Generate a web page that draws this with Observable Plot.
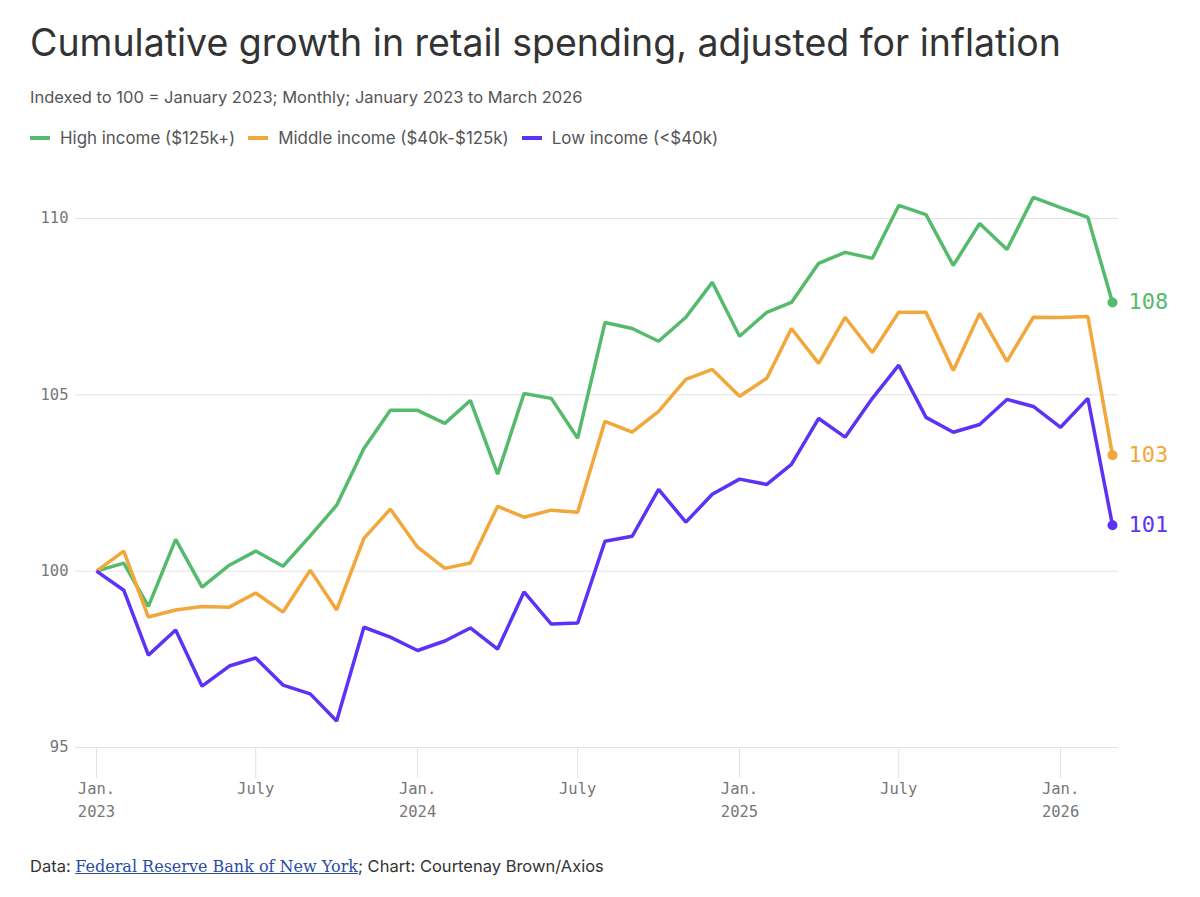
<!DOCTYPE html>
<html>
<head>
<meta charset="utf-8">
<script src="https://cdn.jsdelivr.net/npm/d3@7"></script>
<script src="https://cdn.jsdelivr.net/npm/@observablehq/plot@0.6"></script>
<style>
  html, body { margin: 0; padding: 0; background: #fff; }
  body { width: 1200px; height: 897px; position: relative; font-family: Inter, "Noto Sans", sans-serif; overflow: hidden; }
  #title { position: absolute; left: 30px; top: 20px; font-size: 37.5px; color: #333; font-weight: 400; white-space: nowrap; }
  #subtitle { position: absolute; left: 30px; top: 87px; font-size: 16.5px; color: #555; white-space: nowrap; }
  #legend { position: absolute; left: 30px; top: 128px; font-size: 16.9px; color: #555; white-space: nowrap; display: flex; align-items: center; }
  #legend .item { display: flex; align-items: center; margin-right: 13px; }
  #legend .sw { width: 20px; height: 4px; margin-right: 10px; display: inline-block; }
  #chart { position: absolute; left: 0; top: 160px; }
  #footer { position: absolute; left: 30px; top: 856px; font-size: 16.5px; color: #333; white-space: nowrap; }
  #footer a { font-family: "DejaVu Serif", "Liberation Serif", serif; color: #2a4da3; text-decoration: underline; font-size: 16px; }
</style>
</head>
<body>
<div id="title">Cumulative growth in retail spending, adjusted for inflation</div>
<div id="subtitle">Indexed to 100 = January 2023; Monthly; January 2023 to March 2026</div>
<div id="legend"></div>
<div id="chart"></div>
<div id="footer">Data: <a href="#">Federal Reserve Bank of New York</a>; Chart: Courtenay Brown/Axios</div>
<script>
const months = [
  "2023-01","2023-02","2023-03","2023-04","2023-05","2023-06","2023-07","2023-08","2023-09","2023-10","2023-11","2023-12",
  "2024-01","2024-02","2024-03","2024-04","2024-05","2024-06","2024-07","2024-08","2024-09","2024-10","2024-11","2024-12",
  "2025-01","2025-02","2025-03","2025-04","2025-05","2025-06","2025-07","2025-08","2025-09","2025-10","2025-11","2025-12",
  "2026-01","2026-02","2026-03"
];
const seriesNames = ["High income ($125k+)", "Middle income ($40k-$125k)", "Low income (<$40k)"];
const seriesColors = ["#55bb6c", "#f2a73b", "#5c33f6"];
const highIncome = [
  100, 100.23, 99.0, 100.9, 99.55, 100.17, 100.57, 100.14, 101.0, 101.87, 103.48, 104.56,
  104.56, 104.19, 104.84, 102.75, 105.04, 104.9, 103.77, 107.05, 106.88, 106.52, 107.2, 108.19,
  106.66, 107.34, 107.62, 108.73, 109.04, 108.87, 110.37, 110.11, 108.67, 109.86, 109.12, 110.6,
  110.31, 110.03, 107.62
];
const middleIncome = [
  100, 100.57, 98.7, 98.9, 99.0, 98.98, 99.38, 98.84, 100.03, 98.9, 100.93, 101.76,
  100.68, 100.08, 100.23, 101.84, 101.53, 101.73, 101.67, 104.25, 103.94, 104.53, 105.44, 105.72,
  104.96, 105.47, 106.88, 105.89, 107.2, 106.2, 107.34, 107.34, 105.69, 107.31, 105.95, 107.2,
  107.19, 107.22, 103.29
];
const lowIncome = [
  100, 99.46, 97.62, 98.33, 96.74, 97.31, 97.54, 96.77, 96.52, 95.75, 98.41, 98.13,
  97.75, 98.02, 98.39, 97.79, 99.41, 98.5, 98.53, 100.85, 100.99, 102.32, 101.39, 102.18,
  102.61, 102.46, 103.03, 104.33, 103.8, 104.9, 105.84, 104.36, 103.94, 104.16, 104.87, 104.67,
  104.08, 104.9, 101.3
];
const endLabels = ["108", "103", "101"];
const yTicks = [95, 100, 105, 110];
const xTicks = ["2023-01","2023-07","2024-01","2024-07","2025-01","2025-07","2026-01"];

const parse = d3.utcParse("%Y-%m");
const allValues = [highIncome, middleIncome, lowIncome];
const data = [];
seriesNames.forEach((name, s) => {
  months.forEach((m, i) => data.push({series: name, date: parse(m), value: allValues[s][i]}));
});
const last = seriesNames.map((name, s) => ({
  series: name, date: parse(months[months.length - 1]),
  value: allValues[s][months.length - 1], label: endLabels[s]
}));

// legend
const legend = document.getElementById("legend");
seriesNames.forEach((name, s) => {
  const it = document.createElement("div");
  it.className = "item";
  it.innerHTML = `<span class="sw" style="background:${seriesColors[s]}"></span><span></span>`;
  it.lastChild.textContent = name;
  legend.appendChild(it);
});

const monoFont = "'DejaVu Sans Mono', 'Liberation Mono', monospace";
const fmtTick = d => d.getUTCMonth() === 0 ? `Jan.\n${d.getUTCFullYear()}` : "July";

const W = 1200, H = 690;
const chart = Plot.plot({
  width: W, height: H,
  marginTop: 58, marginBottom: 103, marginLeft: 75, marginRight: 82,
  style: {background: "#fff", overflow: "visible"},
  x: {type: "utc", domain: [parse(months[0]), parse(months[months.length - 1])], insetLeft: 21, insetRight: 6},
  y: {domain: [95, 110]},
  color: {domain: seriesNames, range: seriesColors},
  marks: [
    Plot.gridY(yTicks, {stroke: "#e3e3e3", strokeOpacity: 1, strokeWidth: 1}),
    Plot.axisY(yTicks, {tickSize: 0, tickPadding: 7, fontFamily: monoFont, fontSize: 15.5, fill: "#777", label: null}),
    Plot.axisX(xTicks.map(parse), {tickSize: 31, tickPadding: -1, stroke: "#e3e3e3", strokeOpacity: 1,
      fontFamily: monoFont, fontSize: 15.5, fill: "#777", lineHeight: 1.5, tickFormat: fmtTick, label: null}),
    Plot.line(data, {x: "date", y: "value", z: "series", stroke: "series", strokeWidth: 3.5, strokeLinejoin: "miter", strokeLinecap: "butt"}),
    Plot.dot(last, {x: "date", y: "value", fill: "series", r: 5}),
    Plot.text(last, {x: "date", y: "value", text: "label", fill: "series", dx: 16, textAnchor: "start",
      fontFamily: monoFont, fontSize: 22})
  ]
});
document.getElementById("chart").appendChild(chart);
</script>
</body>
</html>
